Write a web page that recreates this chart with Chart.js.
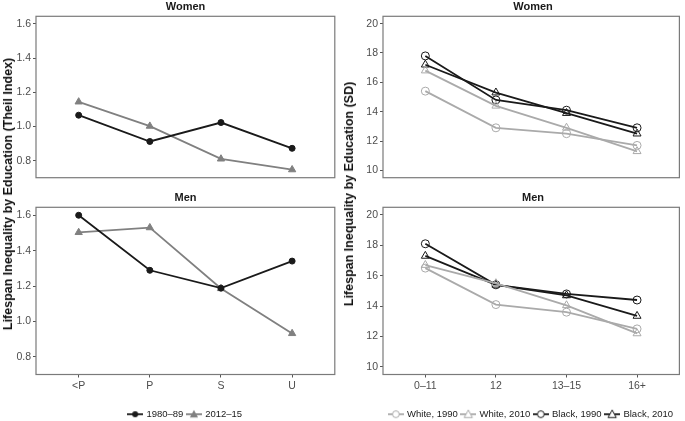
<!DOCTYPE html>
<html>
<head>
<meta charset="utf-8">
<script src="https://cdn.jsdelivr.net/npm/chart.js@4"></script>
<style>
  body { margin: 0; background: #fff; font-family: "Liberation Sans", Arial, sans-serif; }
  #wrap { position: relative; width: 685px; height: 421px; overflow: hidden; }
  canvas { position: absolute; }
  .strip { position: absolute; font-weight: bold; font-size: 11px; color: #1a1a1a; text-align: center; }
  .ytitle { position: absolute; font-weight: bold; font-size: 12.5px; color: #111; white-space: nowrap;
            transform: translate(-50%, -50%) rotate(-90deg); }
</style>
</head>
<body>
<div id="wrap">
  <canvas id="tl" style="left:0;top:8px" width="340" height="178"></canvas>
  <canvas id="bl" style="left:0;top:199px" width="340" height="230"></canvas>
  <canvas id="tr" style="left:340px;top:8px" width="345" height="178"></canvas>
  <canvas id="br" style="left:340px;top:199px" width="345" height="230"></canvas>
  <div class="strip" style="left:36px;width:299px;top:0">Women</div>
  <div class="strip" style="left:36px;width:299px;top:191px">Men</div>
  <div class="strip" style="left:383px;width:300px;top:0">Women</div>
  <div class="strip" style="left:383px;width:300px;top:191px">Men</div>
  <div class="ytitle" style="left:8px;top:194px">Lifespan Inequality by Education (Theil Index)</div>
  <div class="ytitle" style="left:349px;top:194px">Lifespan Inequality by Education (SD)</div>
</div>
<script>
// Left: Theil index by education
const theilCats = ['<P', 'P', 'S', 'U'];
const theilTicks = [0.8, 1.0, 1.2, 1.4, 1.6];
const womenTheil8089 = [1.066, 0.912, 1.023, 0.872];
const womenTheil1215 = [1.144, 1.002, 0.81, 0.747];
const menTheil8089 = [1.60, 1.289, 1.188, 1.341];
const menTheil1215 = [1.503, 1.53, 1.186, 0.932];

// Right: SD by years of education
const sdCats = ['0\u201311', '12', '13\u201315', '16+'];
const sdTicks = [10, 12, 14, 16, 18, 20];
const womenWhite1990 = [15.4, 12.9, 12.5, 11.7];
const womenWhite2010 = [16.8, 14.4, 12.9, 11.3];
const womenBlack1990 = [17.8, 14.8, 14.1, 12.9];
const womenBlack2010 = [17.2, 15.3, 13.9, 12.5];
const menWhite1990 = [16.5, 14.1, 13.6, 12.5];
const menWhite2010 = [16.7, 15.5, 14.05, 12.2];
const menBlack1990 = [18.1, 15.4, 14.8, 14.4];
const menBlack2010 = [17.3, 15.4, 14.7, 13.35];

const BLACK = '#1a1a1a';
const GREY = '#808080';
const LIGHT = '#aaaaaa';
const FONT = '"Liberation Sans", Arial, sans-serif';

const toXY = vals => vals.map((v, i) => ({ x: i, y: v }));

// grey box around each panel
const panelBox = {
  id: 'panelBox',
  beforeDatasetsDraw(chart) {
    const a = chart.chartArea;
    const ctx = chart.ctx;
    ctx.save();
    ctx.strokeStyle = '#7a7a7a';
    ctx.lineWidth = 1.2;
    ctx.strokeRect(a.left, a.top, a.right - a.left, a.bottom - a.top);
    ctx.restore();
  }
};

// small line+marker glyph for legend keys (a bit wider than its legend slot)
function keyGlyph(color, shape, filled) {
  const c = document.createElement('canvas');
  c.width = 16; c.height = 12;
  const g = c.getContext('2d');
  g.strokeStyle = color; g.fillStyle = color; g.lineWidth = 1.8;
  g.beginPath(); g.moveTo(0, 6); g.lineTo(16, 6); g.stroke();
  g.lineWidth = 1;
  g.beginPath();
  if (shape === 'circle') {
    g.arc(8, 6, filled ? 3 : 3.4, 0, Math.PI * 2);
  } else {
    g.moveTo(8, 1.8); g.lineTo(12.1, 9.3); g.lineTo(3.9, 9.3); g.closePath();
  }
  if (filled) g.fill(); else { g.fillStyle = '#fff'; g.fill(); g.stroke(); }
  return c;
}

function series(label, vals, color, shape, filled, radius) {
  return {
    label,
    data: toXY(vals),
    borderColor: color,
    backgroundColor: filled ? color : 'rgba(255,255,255,0)',
    borderWidth: 1.8,
    pointStyle: shape,
    pointRadius: radius,
    pointBorderWidth: 1,
    pointBorderColor: color,
    pointBackgroundColor: filled ? color : 'rgba(255,255,255,0)',
    keyShape: shape,
    keyFilled: filled
  };
}

function makePanel(id, datasets, opts) {
  const tickFont = { family: FONT, size: 10.5 };
  new Chart(document.getElementById(id), {
    type: 'line',
    data: { datasets },
    options: {
      responsive: false,
      animation: false,
      layout: { padding: opts.padding },
      plugins: {
        tooltip: { enabled: false },
        legend: {
          display: opts.legend,
          position: 'bottom',
          fullSize: false,
          labels: {
            usePointStyle: true,
            pointStyleWidth: 13,
            padding: 4,
            color: '#1a1a1a',
            font: { family: FONT, size: 9.5 },
            generateLabels(chart) {
              return chart.data.datasets.map((d, i) => ({
                text: d.label,
                datasetIndex: i,
                fontColor: '#1a1a1a',
                lineWidth: 0,
                strokeStyle: 'transparent',
                fillStyle: 'transparent',
                pointStyle: keyGlyph(d.borderColor, d.keyShape, d.keyFilled)
              }));
            }
          }
        }
      },
      scales: {
        x: {
          type: 'linear',
          min: -0.6,
          max: 3.6,
          display: opts.showX,
          afterBuildTicks: s => { s.ticks = opts.cats.map((c, i) => ({ value: i })); },
          afterFit: s => { s.height = opts.xHeight; },
          ticks: { callback: v => opts.cats[v], color: '#4d4d4d', font: tickFont, padding: 2, maxRotation: 0 },
          grid: { drawOnChartArea: false, drawTicks: true, tickLength: 3, color: '#555' },
          border: { display: false }
        },
        y: {
          type: 'linear',
          min: opts.yMin,
          max: opts.yMax,
          afterBuildTicks: s => { s.ticks = opts.yTicks.map(v => ({ value: v })); },
          afterFit: s => { s.width = opts.yWidth; },
          ticks: { callback: opts.fmt, color: '#4d4d4d', font: tickFont, padding: 2 },
          grid: { drawOnChartArea: false, drawTicks: true, tickLength: 3, color: '#555' },
          border: { display: false }
        }
      }
    },
    plugins: [panelBox]
  });
}

const leftSets = (a, b) => [
  series('1980\u201389', a, BLACK, 'circle', true, 3),
  series('2012\u201315', b, GREY, 'triangle', true, 4.2)
];
const rightSets = (w90, w10, b90, b10) => [
  series('White, 1990', w90, LIGHT, 'circle', false, 4),
  series('White, 2010', w10, LIGHT, 'triangle', false, 4.6),
  series('Black, 1990', b90, BLACK, 'circle', false, 4),
  series('Black, 2010', b10, BLACK, 'triangle', false, 4.6)
];

const leftBase = { cats: theilCats, yTicks: theilTicks, yMin: 0.70, yMax: 1.645, yWidth: 36, fmt: v => v.toFixed(1) };
const rightBase = { cats: sdCats, yTicks: sdTicks, yMin: 9.5, yMax: 20.5, yWidth: 43, fmt: v => String(v) };

makePanel('tl', leftSets(womenTheil8089, womenTheil1215),
  Object.assign({}, leftBase, { showX: false, legend: false, xHeight: 0, padding: { top: 6, right: 5, bottom: 3, left: 0 } }));
makePanel('bl', leftSets(menTheil8089, menTheil1215),
  Object.assign({}, leftBase, { showX: true, legend: true, xHeight: 31, padding: { top: 6, right: 5, bottom: 0, left: 0 } }));
makePanel('tr', rightSets(womenWhite1990, womenWhite2010, womenBlack1990, womenBlack2010),
  Object.assign({}, rightBase, { showX: false, legend: false, xHeight: 0, padding: { top: 6, right: 2, bottom: 3, left: 0 } }));
makePanel('br', rightSets(menWhite1990, menWhite2010, menBlack1990, menBlack2010),
  Object.assign({}, rightBase, { showX: true, legend: true, xHeight: 31, padding: { top: 6, right: 2, bottom: 0, left: 0 } }));
</script>
</body>
</html>
